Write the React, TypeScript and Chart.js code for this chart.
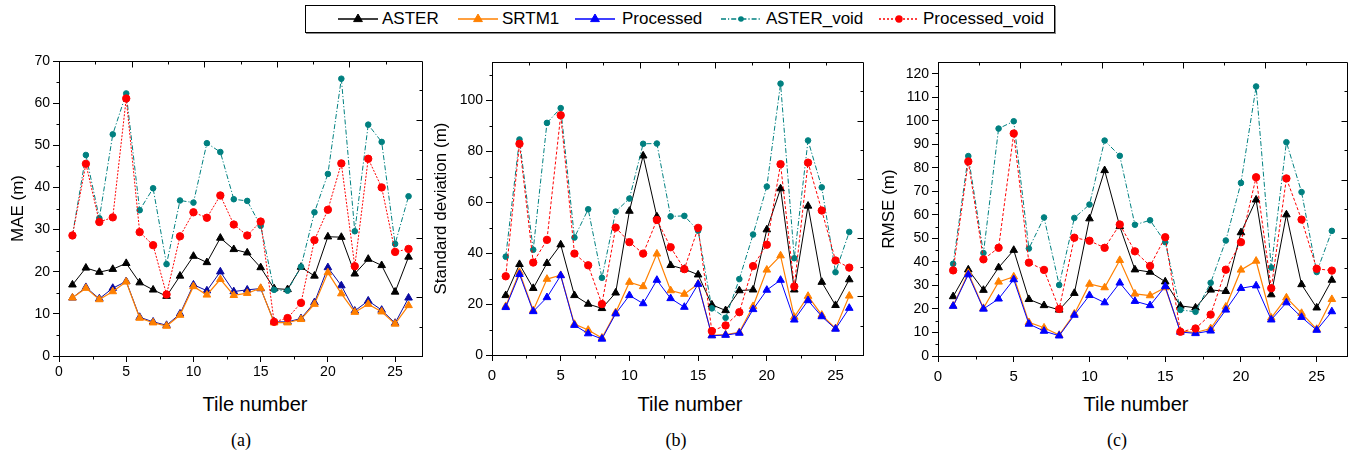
import React, { useEffect, useRef } from 'react';
import { Chart, registerables } from 'chart.js';

Chart.register(...registerables);

// ---------------- DATA ----------------
const tiles = [1, 2, 3, 4, 5, 6, 7, 8, 9, 10, 11, 12, 13, 14, 15, 16, 17, 18, 19, 20, 21, 22, 23, 24, 25, 26];
const seriesNames = ['ASTER', 'SRTM1', 'Processed', 'ASTER_void', 'Processed_void'];

// (a) MAE (m)
const maeAster = [16.9, 20.9, 19.9, 20.6, 22.0, 17.4, 15.7, 14.2, 19.0, 23.7, 22.2, 28.0, 25.3, 24.5, 21.0, 16.0, 15.8, 21.1, 19.0, 28.3, 28.2, 19.5, 23.0, 21.5, 15.2, 23.5];
const maeSrtm1 = [13.8, 16.1, 13.4, 15.3, 17.6, 9.0, 7.9, 7.1, 9.7, 16.5, 14.5, 18.2, 14.4, 14.9, 16.1, 7.9, 7.9, 8.7, 12.3, 19.8, 14.8, 10.4, 12.3, 10.5, 7.6, 12.0];
const maeProcessed = [13.8, 16.3, 13.6, 16.1, 17.7, 9.2, 8.1, 7.3, 10.0, 16.9, 15.5, 20.0, 15.3, 15.7, 16.0, 8.1, 8.1, 8.9, 12.7, 21.0, 16.7, 10.7, 13.1, 10.9, 7.8, 13.8];
const maeAsterVoid = [28.6, 47.7, 32.7, 52.6, 62.3, 34.6, 39.8, 21.8, 36.9, 36.4, 50.5, 48.4, 37.2, 36.8, 30.9, 15.7, 15.5, 21.2, 34.1, 43.2, 65.8, 29.6, 54.9, 50.8, 26.6, 37.9];
const maeProcessedVoid = [28.6, 45.6, 31.8, 32.9, 61.1, 29.4, 26.3, 14.6, 28.4, 34.1, 32.8, 38.1, 31.2, 28.6, 31.9, 8.1, 9.0, 12.6, 27.5, 34.7, 45.7, 21.3, 46.8, 40.0, 24.7, 25.4];

// (b) Standard deviation (m)
const sdAster = [23.4, 35.6, 26.2, 36.0, 43.3, 23.4, 20.0, 18.3, 24.4, 56.5, 78.2, 54.3, 35.2, 33.7, 31.5, 19.7, 17.5, 25.3, 25.6, 49.2, 65.3, 25.6, 58.5, 28.6, 19.5, 29.6];
const sdSrtm1 = [19.1, 32.5, 17.5, 29.8, 31.3, 12.1, 9.8, 6.7, 16.7, 28.6, 26.9, 39.7, 25.3, 23.9, 27.9, 7.7, 8.0, 8.9, 19.1, 33.4, 39.0, 14.9, 23.1, 15.7, 10.4, 23.2];
const sdProcessed = [18.7, 31.7, 17.1, 22.6, 31.2, 11.7, 8.4, 6.3, 16.2, 23.4, 20.2, 29.4, 22.2, 18.8, 27.8, 7.6, 7.8, 8.6, 17.9, 25.5, 29.4, 13.8, 21.4, 15.1, 10.2, 18.4];
const sdAsterVoid = [38.6, 84.6, 41.3, 91.1, 96.9, 46.1, 57.2, 30.3, 56.3, 61.4, 82.9, 83.0, 54.4, 54.6, 48.8, 18.3, 14.6, 29.8, 47.3, 66.1, 106.5, 38.0, 84.2, 65.8, 32.5, 48.3];
const sdProcessedVoid = [30.9, 82.9, 36.3, 45.2, 94.1, 39.8, 35.2, 20.0, 50.0, 44.3, 39.8, 53.0, 42.3, 33.7, 49.9, 9.4, 11.6, 16.8, 34.9, 43.3, 74.9, 26.9, 75.5, 56.7, 37.1, 34.3];

// (c) RMSE (m)
const rmseAster = [25.3, 36.7, 28.0, 37.6, 45.0, 24.1, 21.5, 19.6, 26.7, 58.4, 78.9, 55.1, 36.7, 35.7, 31.6, 21.3, 20.5, 28.1, 27.5, 52.5, 66.4, 26.1, 60.1, 30.4, 20.5, 32.3];
const rmseSrtm1 = [21.3, 35.3, 20.3, 31.5, 33.7, 14.3, 12.0, 8.9, 17.9, 30.6, 29.1, 40.7, 26.4, 25.7, 29.1, 10.6, 10.0, 11.7, 20.9, 36.6, 40.4, 16.2, 24.8, 18.2, 11.4, 24.1];
const rmseProcessed = [21.2, 34.6, 20.0, 24.3, 32.5, 13.6, 10.6, 8.6, 17.4, 25.8, 22.7, 31.1, 23.3, 21.5, 29.6, 10.2, 9.6, 10.7, 19.6, 28.8, 29.9, 15.4, 22.7, 16.5, 11.0, 18.9];
const rmseAsterVoid = [39.2, 85.0, 43.8, 96.7, 99.8, 45.7, 58.9, 30.2, 58.7, 64.4, 91.6, 85.1, 55.8, 57.7, 48.4, 19.6, 18.8, 31.1, 49.1, 73.6, 114.6, 37.6, 90.9, 69.7, 35.7, 53.2];
const rmseProcessedVoid = [36.4, 82.7, 41.1, 46.0, 94.6, 39.7, 36.6, 20.0, 50.3, 49.0, 46.0, 55.9, 44.5, 38.3, 50.5, 10.3, 11.7, 17.6, 36.7, 48.4, 76.0, 28.8, 75.5, 58.0, 37.1, 36.3];

const xTickStep = 5;
const xMax = 27;
const maeTicks = { max: 70, step: 10, minor: 5 };
const sdTicks = { max: 115, step: 20, minor: 10 };
const rmseTicks = { max: 125, step: 10, minor: 5 };

// ---------------- STYLE ----------------
const SANS = '"Liberation Sans", Arial, sans-serif';
const SERIF = '"Liberation Serif", "Times New Roman", serif';
const COLORS = ['#000000', '#FF8000', '#0000FF', '#008080', '#FF0000'];

const frameTicksPlugin = {
  id: 'frameTicks',
  afterDraw(chart: any, _args: any, opts: any) {
    const { ctx, chartArea } = chart;
    const { left, right, top, bottom } = chartArea;
    const xs = chart.scales.x;
    const ys = chart.scales.y;
    const r = (v: number) => Math.round(v) + 0.5;
    ctx.save();
    ctx.strokeStyle = '#000';
    ctx.lineWidth = 1;
    ctx.beginPath();
    ctx.moveTo(r(left), r(top));
    ctx.lineTo(r(right), r(top));
    ctx.lineTo(r(right), r(bottom));
    for (let v = opts.yMinor; v < opts.yMax; v += opts.yStep) {
      const p = r(ys.getPixelForValue(v));
      ctx.moveTo(r(left), p);
      ctx.lineTo(r(left) - 3, p);
    }
    for (let v = opts.xMinor; v < opts.xMax; v += opts.xStep) {
      const p = r(xs.getPixelForValue(v));
      ctx.moveTo(p, r(bottom));
      ctx.lineTo(p, r(bottom) + 3);
    }
    for (let i = 1; i < 10; i++) {
      const len = i % 2 === 0 ? 6 : 3;
      const px = r(xs.getPixelForValue((opts.xMax * i) / 10));
      ctx.moveTo(px, r(top));
      ctx.lineTo(px, r(top) + len);
      const py = r(ys.getPixelForValue((opts.yMax * i) / 10));
      ctx.moveTo(r(right), py);
      ctx.lineTo(r(right) - len, py);
    }
    ctx.stroke();
    ctx.restore();
  },
};

type PanelSpec = {
  left: number;
  top: number;
  wy: number;
  plotW: number;
  plotH: number;
  padTop: number;
  padRight: number;
  hx: number;
  yTicks: { max: number; step: number; minor: number };
  yTitle: string;
  yTitlePad: number;
  xFont: number;
  xPad: number;
  values: number[][];
  drawOrder: number[];
  procColor: string;
  redDash: number[];
};

function Panel({ spec }: { spec: PanelSpec }) {
  const ref = useRef<HTMLCanvasElement | null>(null);
  const width = spec.wy + spec.plotW + spec.padRight;
  const height = spec.padTop + spec.plotH + spec.hx;
  useEffect(() => {
    if (!ref.current) return;
    const styles = [
      { color: COLORS[0], style: 'triangle', radius: 4.4, dash: [] as number[], width: 1 },
      { color: COLORS[1], style: 'triangle', radius: 4.4, dash: [] as number[], width: 1.2 },
      { color: spec.procColor, style: 'triangle', radius: 4.4, dash: [] as number[], width: 1 },
      { color: COLORS[3], style: 'circle', radius: 2.8, dash: [5, 2, 1.2, 2], width: 1 },
      { color: COLORS[4], style: 'circle', radius: 3.7, dash: spec.redDash, width: 1 },
    ];
    const datasets = spec.values.map((vals, i) => ({
      label: seriesNames[i],
      data: tiles.map((t, k) => ({ x: t, y: vals[k] })),
      borderColor: styles[i].color,
      backgroundColor: styles[i].color,
      pointBackgroundColor: styles[i].color,
      pointBorderColor: styles[i].color,
      pointStyle: styles[i].style,
      pointRadius: styles[i].radius,
      pointBorderWidth: 1,
      borderWidth: styles[i].width,
      borderDash: styles[i].dash,
      tension: 0,
      fill: false,
      order: spec.drawOrder[i],
    }));
    const chart = new Chart(ref.current, {
      type: 'line',
      data: { datasets },
      plugins: [frameTicksPlugin],
      options: {
        animation: false,
        responsive: false,
        devicePixelRatio: 1,
        events: [],
        layout: { padding: { top: spec.padTop, right: spec.padRight, left: 0, bottom: 0 } },
        plugins: {
          legend: { display: false },
          tooltip: { enabled: false },
          frameTicks: {
            xMax,
            xStep: xTickStep,
            xMinor: xTickStep / 2,
            yMax: spec.yTicks.max,
            yStep: spec.yTicks.step,
            yMinor: spec.yTicks.minor,
          },
        } as any,
        scales: {
          x: {
            type: 'linear',
            min: 0,
            max: xMax,
            ticks: {
              stepSize: xTickStep,
              includeBounds: false,
              color: '#000',
              font: { family: SANS, size: spec.xFont },
              padding: spec.xPad,
              maxRotation: 0,
            },
            grid: { drawOnChartArea: false, drawTicks: true, tickLength: 6, color: '#000', lineWidth: 1 },
            border: { display: true, color: '#000', width: 1 },
            afterFit: (s: any) => {
              s.height = spec.hx;
            },
          },
          y: {
            type: 'linear',
            min: 0,
            max: spec.yTicks.max,
            ticks: {
              stepSize: spec.yTicks.step,
              includeBounds: false,
              color: '#000',
              font: { family: SANS, size: 14 },
              padding: 3,
            },
            grid: { drawOnChartArea: false, drawTicks: true, tickLength: 6, color: '#000', lineWidth: 1 },
            border: { display: true, color: '#000', width: 1 },
            title: {
              display: true,
              text: spec.yTitle,
              color: '#000',
              font: { family: SANS, size: 17 },
              padding: { top: spec.yTitlePad, bottom: 0 },
            },
            afterFit: (s: any) => {
              s.width = spec.wy;
            },
          },
        },
      } as any,
    });
    return () => chart.destroy();
  }, [spec]);
  return (
    <canvas
      ref={ref}
      width={width}
      height={height}
      style={{ position: 'absolute', left: spec.left, top: spec.top, width, height }}
    />
  );
}

const panels: PanelSpec[] = [
  {
    left: 0, top: 47, wy: 59, plotW: 363, plotH: 295, padTop: 14, padRight: 6, hx: 34,
    yTicks: maeTicks, yTitle: 'MAE (m)', yTitlePad: 8, xFont: 14, xPad: 2,
    values: [maeAster, maeSrtm1, maeProcessed, maeAsterVoid, maeProcessedVoid],
    drawOrder: [5, 3, 4, 2, 1], procColor: '#0A0AA0', redDash: [2, 1.5],
  },
  {
    left: 430, top: 48, wy: 62, plotW: 371, plotH: 293, padTop: 14, padRight: 6, hx: 34,
    yTicks: sdTicks, yTitle: 'Standard deviation (m)', yTitlePad: 1, xFont: 15, xPad: 6,
    values: [sdAster, sdSrtm1, sdProcessed, sdAsterVoid, sdProcessedVoid],
    drawOrder: [5, 4, 3, 2, 1], procColor: '#0000FF', redDash: [3, 2],
  },
  {
    left: 876, top: 48, wy: 62, plotW: 409, plotH: 294, padTop: 14, padRight: 6, hx: 34,
    yTicks: rmseTicks, yTitle: 'RMSE (m)', yTitlePad: 3, xFont: 15, xPad: 6,
    values: [rmseAster, rmseSrtm1, rmseProcessed, rmseAsterVoid, rmseProcessedVoid],
    drawOrder: [5, 4, 3, 2, 1], procColor: '#0000FF', redDash: [3, 2],
  },
];

const xTitleCenters = [255, 690, 1136];
const panelLabels = ['(a)', '(b)', '(c)'];
const panelLabelCenters = [241, 676, 1117];

const legendItems = [
  { sym: 33, text: 77, color: COLORS[0], marker: 'tri', dash: '' },
  { sym: 153, text: 197, color: COLORS[1], marker: 'tri', dash: '' },
  { sym: 270, text: 317, color: COLORS[2], marker: 'tri', dash: '' },
  { sym: 416, text: 461, color: COLORS[3], marker: 'dot', dash: '5,2,1.2,2' },
  { sym: 574, text: 618, color: COLORS[4], marker: 'circle', dash: '2,2' },
];

function Legend() {
  return (
    <div
      style={{
        position: 'absolute', left: 305, top: 5, width: 750, height: 28,
        border: '1px solid #000', boxSizing: 'border-box', background: '#fff',
        boxShadow: '1px 1px 0 #888',
      }}
    >
      {legendItems.map((it, i) => (
        <React.Fragment key={i}>
          <svg width={40} height={14} style={{ position: 'absolute', left: it.sym - 1, top: 6 }}>
            <line x1={0} y1={7} x2={40} y2={7} stroke={it.color} strokeWidth={1.3} strokeDasharray={it.dash || undefined} />
            {it.marker === 'tri' && <polygon points="20,2 15.6,9.6 24.4,9.6" fill={it.color} stroke={it.color} strokeWidth={1} />}
            {it.marker === 'dot' && <circle cx={20} cy={7} r={2.8} fill={it.color} />}
            {it.marker === 'circle' && <circle cx={20} cy={7} r={3.7} fill={it.color} />}
          </svg>
          <div
            style={{
              position: 'absolute', left: it.text - 1, top: 0, height: 26, lineHeight: '26px',
              fontFamily: SANS, fontSize: 17, color: '#000', whiteSpace: 'nowrap',
            }}
          >
            {seriesNames[i]}
          </div>
        </React.Fragment>
      ))}
    </div>
  );
}

export default function App() {
  return (
    <div style={{ position: 'absolute', left: 0, top: 0, width: 1355, height: 460, background: '#fff', overflow: 'hidden' }}>
      <Legend />
      {panels.map((p, i) => (
        <Panel key={i} spec={p} />
      ))}
      {xTitleCenters.map((c, i) => (
        <div
          key={'xt' + i}
          style={{
            position: 'absolute', left: c - 100, top: 394, width: 200, textAlign: 'center',
            fontFamily: SANS, fontSize: 20, lineHeight: '20px', color: '#000',
          }}
        >
          Tile number
        </div>
      ))}
      {panelLabels.map((t, i) => (
        <div
          key={'pl' + i}
          style={{
            position: 'absolute', left: panelLabelCenters[i] - 50, top: 431, width: 100, textAlign: 'center',
            fontFamily: SERIF, fontSize: 18, lineHeight: '18px', color: '#000',
          }}
        >
          {t}
        </div>
      ))}
    </div>
  );
}
